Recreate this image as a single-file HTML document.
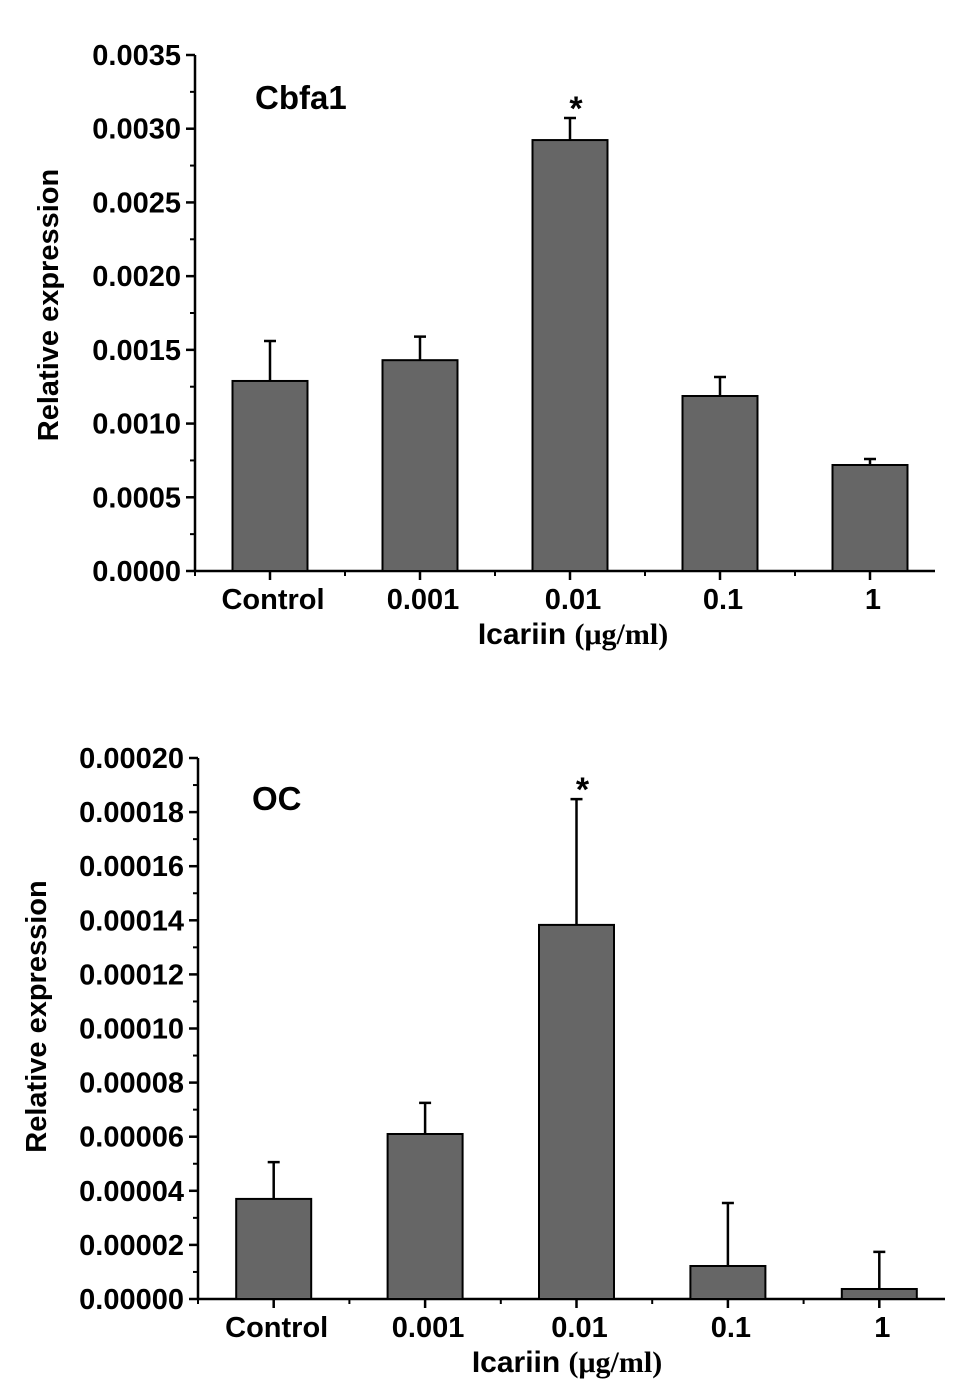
<!DOCTYPE html>
<html><head><meta charset="utf-8"><style>
body{margin:0;background:#fff;}
svg{display:block;}
text{font-family:"Liberation Sans",sans-serif;font-weight:bold;fill:#000;}
</style></head><body>
<svg id="fig" width="969" height="1393" viewBox="0 0 969 1393" xmlns="http://www.w3.org/2000/svg"></svg>
<script>
const categories = ["Control","0.001","0.01","0.1","1"];
const cbfaValues = [0.001289,0.00143,0.002923,0.001187,0.000719];
const cbfaErrors = [0.000271,0.00016,0.00015,0.000129,0.000041];
const cbfaTicks = ["0.0000","0.0005","0.0010","0.0015","0.0020","0.0025","0.0030","0.0035"];
const cbfaSig = [false,false,true,false,false];
const ocValues = [0.0000370,0.0000610,0.0001383,0.0000122,0.0000037];
const ocErrors = [0.0000136,0.0000115,0.0000465,0.0000233,0.0000137];
const ocTicks = ["0.00000","0.00002","0.00004","0.00006","0.00008","0.00010","0.00012","0.00014","0.00016","0.00018","0.00020"];
const ocSig = [false,false,true,false,false];

const NS="http://www.w3.org/2000/svg";
const svg=document.getElementById('fig');
function mk(tag,attrs,parent){const e=document.createElementNS(NS,tag);for(const k in attrs)e.setAttribute(k,attrs[k]);(parent||svg).appendChild(e);return e;}

function chart(cfg){
  const g=mk('g',{});
  
  
  const tickVals=cfg.ticks.map(Number);
  const ymax=tickVals[tickVals.length-1];
  const y=v=>cfg.y0-(v/ymax)*(cfg.y0-cfg.y1);
  const step=(cfg.x1-cfg.x0)/categories.length;
  const xc=i=>cfg.x0+step*(i+0.5);
  const ya=mk('line',{x1:cfg.x0,y1:cfg.y1,x2:cfg.x0,y2:cfg.y0,stroke:'#000','stroke-width':2.5},g);
  
  
  tickVals.forEach((v,i)=>{
    const yy=y(v);
    mk('line',{x1:cfg.x0-9,y1:yy,x2:cfg.x0,y2:yy,stroke:'#000','stroke-width':2.5},g);
    if(i<tickVals.length-1){const ym=y(v+(tickVals[1]-tickVals[0])/2);mk('line',{x1:cfg.x0-5,y1:ym,x2:cfg.x0,y2:ym,stroke:'#000','stroke-width':2},g);}
    const t=mk('text',{x:cfg.x0-14,y:yy+10,'text-anchor':'end','font-size':29},g);
    t.textContent=cfg.ticks[i];
    
    
  });
  const xa=mk('line',{x1:cfg.x0-1,y1:cfg.y0,x2:cfg.x1-10,y2:cfg.y0,stroke:'#000','stroke-width':2.5},g);
  
  
  for(let i=0;i<categories.length;i++){
    const xm=cfg.x0+step*i;
    mk('line',{x1:xm,y1:cfg.y0,x2:xm,y2:cfg.y0+5,stroke:'#000','stroke-width':2},g);
  }
  categories.forEach((c,i)=>{
    const v=cfg.values[i], e=cfg.errors[i];
    const bw=75, bx=xc(i)-bw/2;
    const b=mk('rect',{x:bx,y:y(v),width:bw,height:cfg.y0-y(v),fill:'#666',stroke:'#000','stroke-width':2},g);
    
    
    const et=y(v+e);
    const eb=mk('path',{d:`M${xc(i)} ${y(v)}V${et}M${xc(i)-6} ${et}H${xc(i)+6}`,stroke:'#000','stroke-width':2.5,fill:'none'},g);
    
    
    if(cfg.sig[i]){const s=mk('text',{x:xc(i)+6,y:et+2,'text-anchor':'middle','font-size':34},g);s.textContent='*';
      
      }
    mk('line',{x1:xc(i),y1:cfg.y0,x2:xc(i),y2:cfg.y0+9,stroke:'#000','stroke-width':2.5},g);
    const t=mk('text',{x:xc(i)+3,y:cfg.y0+38,'text-anchor':'middle','font-size':29},g);
    t.textContent=c;
    
    
  });
  const tl=mk('text',{x:cfg.titleX,y:cfg.titleY,'font-size':33},g);
  tl.textContent=cfg.title;
  
  
  const yt=mk('text',{x:0,y:0,'text-anchor':'middle','font-size':29,transform:`translate(${cfg.yTitleX},${(cfg.y0+cfg.y1)/2+cfg.yTitleShift}) rotate(-90)`},g);
  yt.textContent='Relative expression';
  
  
  const xt=mk('text',{x:cfg.xTitleX,y:cfg.y0+73,'text-anchor':'middle','font-size':30},g);
  xt.innerHTML='Icariin <tspan style="font-family:\'Liberation Serif\',serif">(μg/ml)</tspan>';
  
  
}
chart({name:'cbfa1-chart',values:cbfaValues,errors:cbfaErrors,ticks:cbfaTicks,sig:cbfaSig,x0:195,x1:945,y0:571,y1:55,title:'Cbfa1',titleX:255,titleY:109,yTitleX:58,yTitleShift:-8,xTitleX:573});
chart({name:'oc-chart',values:ocValues,errors:ocErrors,ticks:ocTicks,sig:ocSig,x0:198,x1:955,y0:1299,y1:758,title:'OC',titleX:252,titleY:810,yTitleX:46,yTitleShift:-12,xTitleX:567});
</script>
</body></html>
